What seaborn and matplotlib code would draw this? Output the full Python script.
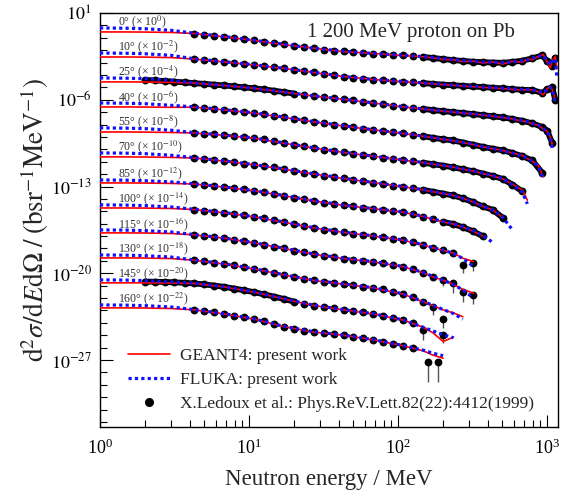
import numpy as np
import pandas as pd
import matplotlib
matplotlib.use("Agg")
import matplotlib.pyplot as plt
import matplotlib.ticker as mticker
from matplotlib.lines import Line2D
import seaborn as sns

nan = np.nan

# angles and the power of ten each spectrum is multiplied with
angles = [0, 10, 25, 40, 55, 70, 85, 100, 115, 130, 145, 160]
scale_exp = [0, -2, -4, -6, -8, -10, -12, -14, -16, -18, -20, -22]

# experimental energy bins [MeV]
energy_exp = [2.0, 2.33, 2.71, 3.16, 3.69, 4.3, 5.0, 5.84, 6.81, 7.94, 9.26, 10.8, 12.6, 14.7,
              17.1, 20.0, 23.3, 27.1, 31.6, 36.9, 43.0, 50.1, 58.4, 68.1, 79.4, 92.6, 108, 126,
              147, 171, 200, 233, 271, 316, 369, 430, 501, 584, 681, 794, 926, 1000, 1080, 1130]

# log10 of d2sigma/dEdOmega [b/sr/MeV], unscaled (Ledoux et al.)
exp_0 = [nan, nan, nan, nan, nan, -0.66, -0.74, -0.83, -0.92, -1.01, -1.11, -1.22, -1.31, -1.42,
         -1.54, -1.66, -1.76, -1.86, -1.95, -2.03, -2.1, -2.16, -2.22, -2.28, -2.33, -2.38, -2.42,
         -2.48, -2.55, -2.63, -2.72, -2.8, -2.87, -2.93, -2.97, -3.0, -3.02, -2.95, -2.85, -2.66,
         -2.42, -2.9, -3.3, -2.6]
exp_10 = [nan, nan, nan, nan, nan, -0.72, -0.79, -0.87, -0.95, -1.03, -1.11, -1.2, -1.28, -1.37,
          -1.47, -1.58, -1.69, -1.8, -1.92, -2.03, -2.13, -2.22, -2.3, -2.37, -2.44, -2.5, -2.55,
          -2.6, -2.66, -2.72, -2.78, -2.83, -2.88, -2.93, -2.98, -3.03, -3.08, -3.14, -3.2, -3.22,
          -3.45, -3.15, -3.0, -4.0]
exp_25 = [-0.40, -0.44, -0.49, -0.54, -0.60, -0.66, -0.72, -0.78, -0.85, -0.92, -1.0, -1.08, -1.17,
          -1.27, -1.38, -1.5, -1.6, -1.7, -1.79, -1.88, -1.97, -2.06, -2.16, -2.26, -2.37, -2.48,
          -2.58, -2.66, -2.74, -2.84, -2.92, -3.0, -3.07, -3.15, -3.24, -3.33, -3.43, -3.55, -3.7,
          -3.9, -4.2, -4.5, -5.5]
exp_40 = [nan, nan, nan, nan, nan, -0.60, -0.67, -0.74, -0.82, -0.9, -0.99, -1.08, -1.18, -1.29,
          -1.42, -1.55, -1.66, -1.78, -1.9, -2.01, -2.12, -2.22, -2.32, -2.43, -2.53, -2.63, -2.72,
          -2.83, -2.95, -3.07, -3.19, -3.28, -3.45, -3.62, -3.8, -3.95, -4.08, -4.3, -4.55, -4.9,
          -5.9]
exp_55 = [nan, nan, nan, nan, nan, -0.68, -0.74, -0.8, -0.87, -0.94, -1.02, -1.1, -1.2, -1.32,
          -1.5, -1.65, -1.77, -1.9, -2.02, -2.14, -2.25, -2.35, -2.45, -2.56, -2.67, -2.77, -2.87,
          -2.97, -3.08, -3.2, -3.32, -3.45, -3.6, -3.76, -3.95, -4.15, -4.38, -4.85, -5.4]
exp_70 = [nan, nan, nan, nan, nan, -0.70, -0.78, -0.86, -0.95, -1.05, -1.15, -1.25, -1.34, -1.44,
          -1.6, -1.75, -1.87, -1.99, -2.12, -2.24, -2.35, -2.46, -2.57, -2.69, -2.81, -2.92, -3.02,
          -3.13, -3.27, -3.42, -3.57, -3.72, -3.95, -4.25, -4.6, -4.88, -5.5]
exp_85 = [nan, nan, nan, nan, nan, -0.80, -0.88, -0.96, -1.05, -1.14, -1.24, -1.35, -1.47, -1.6,
          -1.74, -1.9, -2.03, -2.17, -2.3, -2.42, -2.52, -2.61, -2.7, -2.79, -2.88, -2.97, -3.07,
          -3.22, -3.42, -3.65, -3.85, -4.02, -4.28, -4.6, -5.0]
exp_100 = [nan, nan, nan, nan, nan, -0.86, -0.94, -1.03, -1.12, -1.22, -1.33, -1.45, -1.58, -1.72,
           -1.88, -2.05, -2.2, -2.34, -2.47, -2.6, -2.7, -2.8, -2.9, -3.0, -3.1, -3.21, -3.33,
           -3.5, -3.72, -3.95, -4.15, -4.4]
exp_115 = [nan, nan, nan, nan, nan, -0.90, -0.98, -1.07, -1.17, -1.28, -1.41, -1.55, -1.69, -1.84,
           -2.0, -2.17, -2.32, -2.46, -2.59, -2.71, -2.81, -2.9, -2.99, -3.08, -3.19, -3.32, -3.47,
           -3.68, -3.95, -4.3]
exp_130 = [nan, nan, nan, nan, nan, -0.95, -1.04, -1.14, -1.25, -1.37, -1.5, -1.65, -1.8, -1.96,
           -2.13, -2.3, -2.45, -2.58, -2.69, -2.79, -2.88, -2.97, -3.07, -3.18, -3.3, -3.5, -3.68,
           -3.95, -4.3]
exp_145 = [-0.67, -0.68, -0.7, -0.73, -0.77, -0.82, -0.9, -0.99, -1.1, -1.23, -1.37, -1.52, -1.7,
           -1.88, -2.07, -2.28, -2.45, -2.6, -2.73, -2.84, -2.95, -3.05, -3.16, -3.28, -3.42, -3.58,
           -3.78, -4.02]
exp_160 = [nan, nan, nan, nan, nan, -0.95, -1.05, -1.16, -1.28, -1.41, -1.55, -1.7, -1.88, -2.08,
           -2.3, -2.48, -2.62, -2.74, -2.84, -2.93, -3.0, -3.1, -3.22, -3.37, -3.52, -3.68, -3.85,
           -4.05]

# last points with large error bars (energy, log10 value, log10 lower end)
err_energy = {100: [271, 316], 115: [200, 233, 271, 316], 130: [171, 200], 145: [147, 200], 160: [158, 184]}
err_value = {100: [-5.3, -5.2], 115: [-4.55, -4.8, -5.5, -5.72], 130: [-4.75, -5.7], 145: [-4.6, -5.0], 160: [-5.15, -5.15]}
err_lower = {100: [-6.0, -5.8], 115: [-5.0, -5.6, -6.3, -6.5], 130: [-5.4, -6.4], 145: [-5.4, -5.6], 160: [-6.8, -6.8]}

# stretches where the measured points sit so close they form a band
dense_bands = {0: [(147, 1130)], 10: [(147, 1130)], 25: [(2.0, 20.0), (147, 1080)], 40: [(147, 926)],
               55: [(147, 681)], 70: [(147, 501)], 85: [(200, 369)], 145: [(2.0, 20.0)]}

# simulation energy grid [MeV]
energy_model = [1.0, 1.5, 2.0, 3.0, 4.3, 6.8, 10.8, 17.1, 27.1, 43.0, 68.1, 108, 147, 171, 200, 235,
                271, 320, 369, 430, 501, 584, 681, 735, 794, 870, 940, 1000, 1047, 1080, 1132, 1160]

g4_0 = [-0.53, -0.53, -0.54, -0.57, -0.66, -0.92, -1.22, -1.56, -1.84, -2.12, -2.26, -2.44, -2.53, -2.62,
        -2.75, -2.78, -2.92, -2.88, -3.04, -2.95, -3.12, -2.9, -2.97, -2.7, -2.77, -2.5, -2.35, -3.0,
        -3.44, -2.9, -2.5, -3.5]
fl_0 = [-0.21, -0.23, -0.27, -0.4, -0.63, -0.9, -1.2, -1.52, -1.85, -2.08, -2.27, -2.4, -2.52, -2.6,
        -2.68, -2.76, -2.83, -2.9, -2.95, -2.98, -3.0, -2.95, -2.85, -2.78, -2.65, -2.5, -2.45, -2.85,
        -3.2, -2.9, -2.7, -4.2]
g4_10 = [-0.55, -0.55, -0.56, -0.6, -0.72, -0.95, -1.2, -1.47, -1.8, -2.13, -2.37, -2.55, -2.66, -2.72,
         -2.78, -2.83, -2.9, -2.95, -3.0, -3.05, -3.1, -3.16, -3.22, -3.18, -3.2, -3.35, -3.6, -3.1,
         -2.92, -3.2, -4.0]
fl_10 = [-0.23, -0.25, -0.29, -0.42, -0.7, -0.93, -1.18, -1.46, -1.78, -2.12, -2.36, -2.53, -2.64, -2.7,
         -2.76, -2.82, -2.87, -2.92, -2.97, -3.01, -3.06, -3.12, -3.17, -3.18, -3.2, -3.32, -3.45,
         -3.15, -2.98, -3.2, -4.2]
g4_25 = [-0.56, -0.56, -0.57, -0.6, -0.66, -0.85, -1.08, -1.38, -1.7, -1.97, -2.26, -2.58, -2.74, -2.84,
         -2.92, -3.0, -3.07, -3.15, -3.24, -3.33, -3.43, -3.55, -3.72, -3.78, -3.95, -4.05, -4.35,
         -4.55, -5.0, -5.6]
fl_25 = [-0.24, -0.26, -0.3, -0.43, -0.64, -0.84, -1.07, -1.37, -1.69, -1.96, -2.25, -2.56, -2.73, -2.82,
         -2.9, -2.98, -3.06, -3.14, -3.22, -3.31, -3.41, -3.53, -3.68, -3.77, -3.9, -4.05, -4.3, -4.6,
         -5.0, -5.9]
g4_40 = [-0.58, -0.58, -0.59, -0.61, -0.6, -0.82, -1.08, -1.42, -1.78, -2.12, -2.43, -2.72, -2.95, -3.07,
         -3.19, -3.3, -3.45, -3.62, -3.8, -3.95, -4.08, -4.3, -4.5, -4.75, -4.95, -5.3, -6.2]
fl_40 = [-0.26, -0.28, -0.32, -0.45, -0.58, -0.8, -1.06, -1.4, -1.76, -2.1, -2.42, -2.7, -2.93, -3.05,
         -3.17, -3.3, -3.43, -3.6, -3.78, -3.93, -4.1, -4.3, -4.55, -4.72, -4.95, -5.35, -6.4]
g4_55 = [-0.6, -0.6, -0.61, -0.64, -0.68, -0.87, -1.1, -1.5, -1.9, -2.25, -2.56, -2.87, -3.08, -3.2,
         -3.32, -3.45, -3.6, -3.76, -3.95, -4.15, -4.38, -4.8, -5.3, -6.1]
fl_55 = [-0.27, -0.29, -0.33, -0.46, -0.66, -0.85, -1.08, -1.48, -1.88, -2.23, -2.55, -2.85, -3.06, -3.18,
         -3.3, -3.44, -3.58, -3.75, -3.93, -4.12, -4.36, -4.85, -5.45, -6.4]
g4_70 = [-0.61, -0.61, -0.62, -0.65, -0.7, -0.95, -1.25, -1.6, -1.99, -2.35, -2.69, -3.02, -3.27, -3.42,
         -3.57, -3.72, -3.95, -4.25, -4.6, -4.88, -5.5]
fl_70 = [-0.29, -0.31, -0.35, -0.48, -0.68, -0.93, -1.23, -1.58, -1.97, -2.33, -2.67, -3.0, -3.25, -3.4,
         -3.55, -3.72, -3.95, -4.25, -4.58, -4.9, -5.45, -6.5]
g4_85 = [-0.71, -0.71, -0.72, -0.75, -0.8, -1.05, -1.35, -1.74, -2.17, -2.52, -2.79, -3.07, -3.42, -3.65,
         -3.85, -4.03, -4.28, -4.6, -5.0]
fl_85 = [-0.47, -0.49, -0.53, -0.63, -0.78, -1.03, -1.33, -1.72, -2.15, -2.5, -2.78, -3.05, -3.4, -3.62,
         -3.82, -4.0, -4.25, -4.58, -4.95, -5.5]
g4_100 = [-0.73, -0.73, -0.74, -0.77, -0.86, -1.12, -1.45, -1.88, -2.34, -2.7, -3.0, -3.33, -3.72, -3.95,
          -4.15, -4.38, -4.78, -5.05]
fl_100 = [-0.48, -0.5, -0.54, -0.65, -0.84, -1.1, -1.43, -1.86, -2.32, -2.68, -2.98, -3.31, -3.7, -3.93,
          -4.13, -4.4, -4.8, -5.45]
g4_115 = [-0.74, -0.74, -0.75, -0.79, -0.9, -1.17, -1.55, -2.0, -2.46, -2.81, -3.08, -3.47, -3.95, -4.3,
          -4.55, -4.9, -5.3, -5.6]
fl_115 = [-0.5, -0.52, -0.56, -0.67, -0.88, -1.15, -1.53, -1.98, -2.44, -2.79, -3.06, -3.45, -3.93, -4.25,
          -4.55, -4.9, -5.35, -5.98]
g4_130 = [-0.76, -0.76, -0.77, -0.81, -0.95, -1.25, -1.65, -2.13, -2.58, -2.88, -3.18, -3.68, -4.3, -4.6,
          -4.95, -5.2, -5.5]
fl_130 = [-0.52, -0.54, -0.58, -0.69, -0.93, -1.23, -1.63, -2.11, -2.56, -2.86, -3.16, -3.66, -4.28, -4.58,
          -4.92, -5.25, -5.7]
g4_145 = [-0.77, -0.77, -0.77, -0.79, -0.82, -1.1, -1.52, -2.07, -2.6, -2.95, -3.28, -3.78, -4.35, -4.8,
          -5.5, -5.15]
fl_145 = [-0.53, -0.55, -0.6, -0.7, -0.8, -1.08, -1.5, -2.05, -2.58, -2.93, -3.26, -3.76, -4.35, -4.65,
          -4.95, -5.2]
g4_160 = [-0.79, -0.79, -0.8, -0.84, -0.95, -1.28, -1.7, -2.3, -2.74, -3.0, -3.37, -3.85, -4.25, -4.6,
          -4.85]
fl_160 = [-0.55, -0.57, -0.61, -0.72, -0.93, -1.26, -1.68, -2.28, -2.72, -2.98, -3.35, -3.83, -4.2, -4.45,
          -4.65]

exp_sets = [exp_0, exp_10, exp_25, exp_40, exp_55, exp_70, exp_85, exp_100, exp_115, exp_130, exp_145, exp_160]
g4_sets = [g4_0, g4_10, g4_25, g4_40, g4_55, g4_70, g4_85, g4_100, g4_115, g4_130, g4_145, g4_160]
fl_sets = [fl_0, fl_10, fl_25, fl_40, fl_55, fl_70, fl_85, fl_100, fl_115, fl_130, fl_145, fl_160]


def to_frame(energies, sets):
    rows = []
    for ang, p, vals in zip(angles, scale_exp, sets):
        for e, v in zip(energies, vals):
            if not np.isnan(v):
                rows.append((ang, e, 10.0 ** (v + p)))
    return pd.DataFrame(rows, columns=["angle", "energy", "sigma"])


df_exp = to_frame(energy_exp, exp_sets)
df_g4 = to_frame(energy_model, g4_sets)
df_fl = to_frame(energy_model, fl_sets)

sns.set_theme(style="ticks")
plt.rcParams["font.family"] = ["Liberation Serif", "DejaVu Serif"]
plt.rcParams["mathtext.fontset"] = "stix"

fig = plt.figure(figsize=(5.63, 5.03), dpi=100)
ax = fig.add_axes([0.1776, 0.1511, 0.8135, 0.8231])
ax.set_xscale("log")
ax.set_yscale("log")

# measured points
sns.scatterplot(data=df_exp, x="energy", y="sigma", color="black", s=32, linewidth=0,
                ax=ax, zorder=2, legend=False)
for ang, ranges in dense_bands.items():
    sub = df_exp[df_exp["angle"] == ang]
    for lo, hi in ranges:
        seg = sub[(sub["energy"] >= lo) & (sub["energy"] <= hi)]
        ax.plot(seg["energy"], seg["sigma"], color="black", lw=4.2, solid_capstyle="round", zorder=2)

for ang, p in zip(angles, scale_exp):
    if ang in err_energy:
        y = 10.0 ** (np.array(err_value[ang]) + p)
        ylo = 10.0 ** (np.array(err_lower[ang]) + p)
        ax.errorbar(err_energy[ang], y, yerr=[y - ylo, np.zeros_like(y)], fmt="o", ms=5.6, mew=0,
                    mfc="black", ecolor="#555555", elinewidth=1.0, capsize=2.0, zorder=2)

# simulations
sns.lineplot(data=df_g4, x="energy", y="sigma", units="angle", estimator=None, sort=False,
             color="#ff0000", lw=1.2, ax=ax, zorder=3, legend=False)
sns.lineplot(data=df_fl, x="energy", y="sigma", units="angle", estimator=None, sort=False,
             color="#1010ff", lw=2.3, linestyle=(0, (1, 1)), ax=ax, zorder=4, legend=False)

# angle labels
for ang, p, fl in zip(angles, scale_exp, fl_sets):
    ax.text(1.33, 10.0 ** (fl[0] + 0.48 + p), f"{ang}° (× 10$^{{{p}}}$)", fontsize=8.5,
            color="#333333", ha="left", va="center", zorder=5)

ax.text(0.679, 0.953, "1 200 MeV proton on Pb", transform=ax.transAxes, ha="center", va="center",
        fontsize=15)

ax.set_xlim(1, 1180)
ax.set_ylim(10 ** -32.4, 10 ** 1.0)

ax.xaxis.set_major_locator(mticker.LogLocator(base=10, numticks=10))
ax.xaxis.set_minor_locator(mticker.LogLocator(base=10, subs=np.arange(2, 10), numticks=20))
ax.xaxis.set_minor_formatter(mticker.NullFormatter())
ax.yaxis.set_major_locator(mticker.FixedLocator([1e1, 1e-6, 1e-13, 1e-20, 1e-27]))
ax.yaxis.set_minor_locator(mticker.FixedLocator(10.0 ** np.arange(-32, 2)))
ax.yaxis.set_major_formatter(mticker.FuncFormatter(lambda v, pos: rf"$10^{{{int(round(np.log10(v)))}}}$"))
ax.yaxis.set_minor_formatter(mticker.NullFormatter())

ax.tick_params(which="both", direction="in", top=False, right=False, colors="black", width=0.8)
ax.tick_params(which="major", length=9, labelsize=13)
ax.tick_params(axis="x", which="major", pad=8)
ax.tick_params(axis="y", which="major", pad=6)
ax.tick_params(which="minor", length=5)
for sp in ax.spines.values():
    sp.set_linewidth(1.0)
    sp.set_color("black")

ax.set_xlabel("Neutron energy / MeV", fontsize=16.5, labelpad=8)
ax.set_ylabel(r"$\mathrm{d}^2\sigma/\mathrm{d}E\mathrm{d}\Omega\;/\;(\mathrm{bsr}^{-1}\mathrm{MeV}^{-1})$",
              fontsize=19.5, labelpad=0)

handles = [Line2D([], [], color="#ff0000", lw=1.2),
           Line2D([], [], color="#1010ff", lw=2.3, linestyle=(0, (1, 1))),
           Line2D([], [], color="black", marker="o", ls="none", ms=5.5)]
labels = ["GEANT4: present work", "FLUKA: present work",
          "X.Ledoux et al.: Phys.ReV.Lett.82(22):4412(1999)"]
ax.legend(handles, labels, loc="lower left", bbox_to_anchor=(0.062, 0.036), frameon=False,
          fontsize=12.5, handlelength=2.4, handletextpad=0.6, labelspacing=0.45,
          borderpad=0, borderaxespad=0)

fig.savefig("out.png", dpi=100)
